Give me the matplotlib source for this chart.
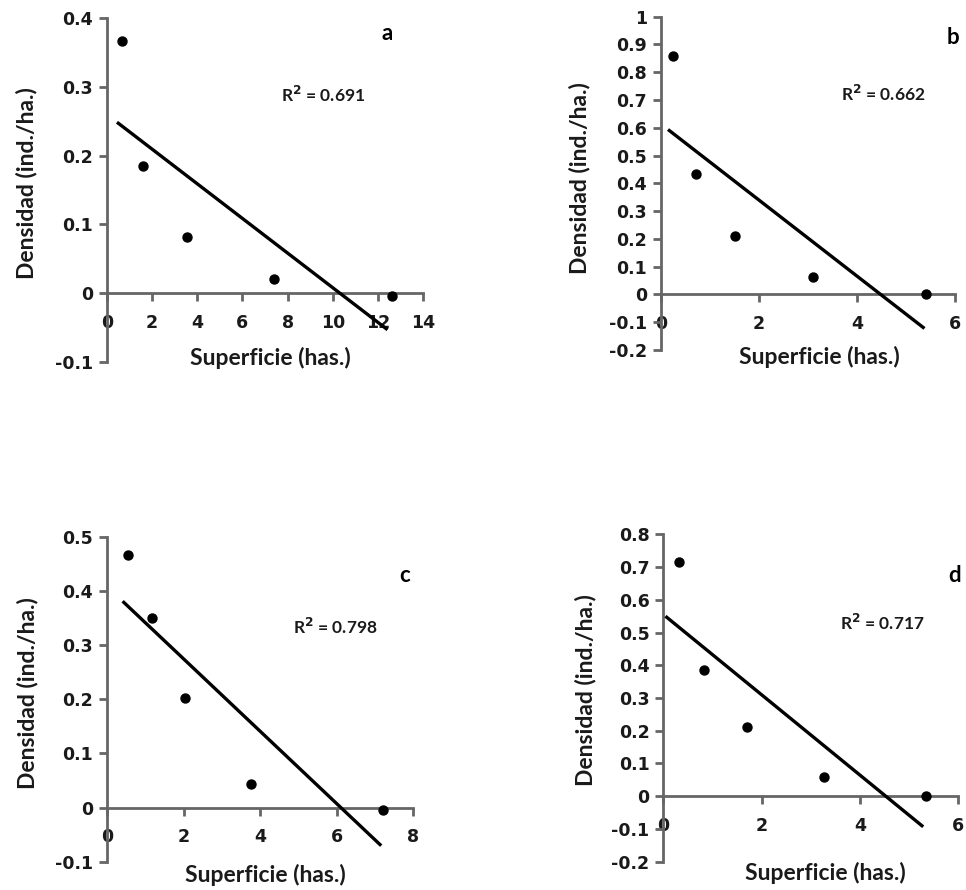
import numpy as np
import matplotlib
matplotlib.use("Agg")
import matplotlib.pyplot as plt

plt.rcParams['font.family'] = ['Lato', 'DejaVu Sans']
plt.rcParams['font.weight'] = 'bold'

# ---- data ----
panel_letters = ["a", "b", "c", "d"]

x_a = [0.66, 1.58, 3.55, 7.39, 12.62]
y_a = [0.366, 0.185, 0.081, 0.021, -0.004]
x_b = [0.25, 0.71, 1.52, 3.11, 5.40]
y_b = [0.857, 0.435, 0.209, 0.062, 0.0]
x_c = [0.56, 1.17, 2.03, 3.75, 7.21]
y_c = [0.467, 0.350, 0.202, 0.043, -0.005]
x_d = [0.32, 0.83, 1.70, 3.27, 5.34]
y_d = [0.715, 0.384, 0.212, 0.059, 0.0]

r2_values = ["0.691", "0.662", "0.798", "0.717"]

# trendline x-extents as drawn in the original
trend_x_a = [0.5, 12.37]
trend_x_b = [0.17, 5.35]
trend_x_c = [0.44, 7.13]
trend_x_d = [0.07, 5.26]

xticks_a = [0, 2, 4, 6, 8, 10, 12, 14]
yticks_a = [-0.1, 0, 0.1, 0.2, 0.3, 0.4]
xticks_b = [0, 2, 4, 6]
yticks_b = [-0.2, -0.1, 0, 0.1, 0.2, 0.3, 0.4, 0.5, 0.6, 0.7, 0.8, 0.9, 1.0]
xticks_c = [0, 2, 4, 6, 8]
yticks_c = [-0.1, 0, 0.1, 0.2, 0.3, 0.4, 0.5]
xticks_d = [0, 2, 4, 6]
yticks_d = [-0.2, -0.1, 0, 0.1, 0.2, 0.3, 0.4, 0.5, 0.6, 0.7, 0.8]

xlabel = "Superficie (has.)"
ylabel = "Densidad (ind./ha.)"

W, H = 966, 890
fig = plt.figure(figsize=(W / 100, H / 100), dpi=100)
fig.patch.set_facecolor("white")

def px_axes(left, right, top, bottom):
    return [left / W, (H - bottom) / H, (right - left) / W, (bottom - top) / H]

panels = [
    dict(box=px_axes(107, 423, 18, 362), x=x_a, y=y_a, tx=trend_x_a, xt=xticks_a, yt=yticks_a,
         letter=(387, 33), r2=(323, 95), xl=(270, 358), yl=(27, 183)),
    dict(box=px_axes(661, 955, 16.7, 350), x=x_b, y=y_b, tx=trend_x_b, xt=xticks_b, yt=yticks_b,
         letter=(953, 37), r2=(883, 94), xl=(819, 357), yl=(580, 178)),
    dict(box=px_axes(107, 413.3, 536.7, 861.7), x=x_c, y=y_c, tx=trend_x_c, xt=xticks_c, yt=yticks_c,
         letter=(405, 575), r2=(335, 627), xl=(265, 875), yl=(28, 693)),
    dict(box=px_axes(663.3, 958.3, 534.3, 861.7), x=x_d, y=y_d, tx=trend_x_d, xt=xticks_d, yt=yticks_d,
         letter=(955, 575), r2=(882, 623), xl=(825, 873), yl=(585, 690)),
]

spine_col = "#666666"
txt_col = "#1a1a1a"

def fmt(v):
    if abs(v) < 1e-9:
        return "0"
    if abs(v - round(v)) < 1e-9:
        return str(int(round(v)))
    return ("%.1f" % v)

for i, p in enumerate(panels):
    ax = fig.add_axes(p["box"])
    x = np.array(p["x"])
    y = np.array(p["y"])
    ax.set_xlim(p["xt"][0], p["xt"][-1])
    ax.set_ylim(p["yt"][0], p["yt"][-1])
    ax.scatter(x, y, s=42, color="black", zorder=4, clip_on=False)
    coef = np.polyfit(x, y, 1)
    tx = np.array(p["tx"])
    ax.plot(tx, np.polyval(coef, tx), color="black", lw=2.4, zorder=3, clip_on=False)

    for s in ["top", "right"]:
        ax.spines[s].set_visible(False)
    ax.spines["bottom"].set_position(("data", 0))
    for s in ["left", "bottom"]:
        ax.spines[s].set_color(spine_col)
        ax.spines[s].set_linewidth(2.0)
    ax.set_xticks(p["xt"], [fmt(v) for v in p["xt"]], fontfamily="DejaVu Sans",
                  fontweight="bold", fontsize=12.5, color=txt_col)
    ax.set_yticks(p["yt"], [fmt(v) for v in p["yt"]], fontfamily="DejaVu Sans",
                  fontweight="bold", fontsize=12.5, color=txt_col)
    ax.tick_params(axis="both", direction="out", length=6, width=2.0, color=spine_col)
    ax.tick_params(axis="x", pad=9)
    ax.tick_params(axis="y", pad=4)
    ax.patch.set_alpha(0)

    fig.text(p["letter"][0] / W, 1 - p["letter"][1] / H, panel_letters[i],
             fontsize=16, fontweight="bold", ha="center", va="center")
    fig.text(p["r2"][0] / W, 1 - p["r2"][1] / H, "R$^\\mathbf{2}$ = " + r2_values[i],
             fontsize=12.5, fontweight="bold", ha="center", va="center", color=txt_col)
    fig.text(p["xl"][0] / W, 1 - p["xl"][1] / H, xlabel,
             fontsize=16.5, fontweight="bold", ha="center", va="center", color=txt_col)
    fig.text(p["yl"][0] / W, 1 - p["yl"][1] / H, ylabel, rotation=90,
             fontsize=16.5, fontweight="bold", ha="center", va="center", color=txt_col)

fig.savefig("out.png", dpi=100, facecolor="white")
